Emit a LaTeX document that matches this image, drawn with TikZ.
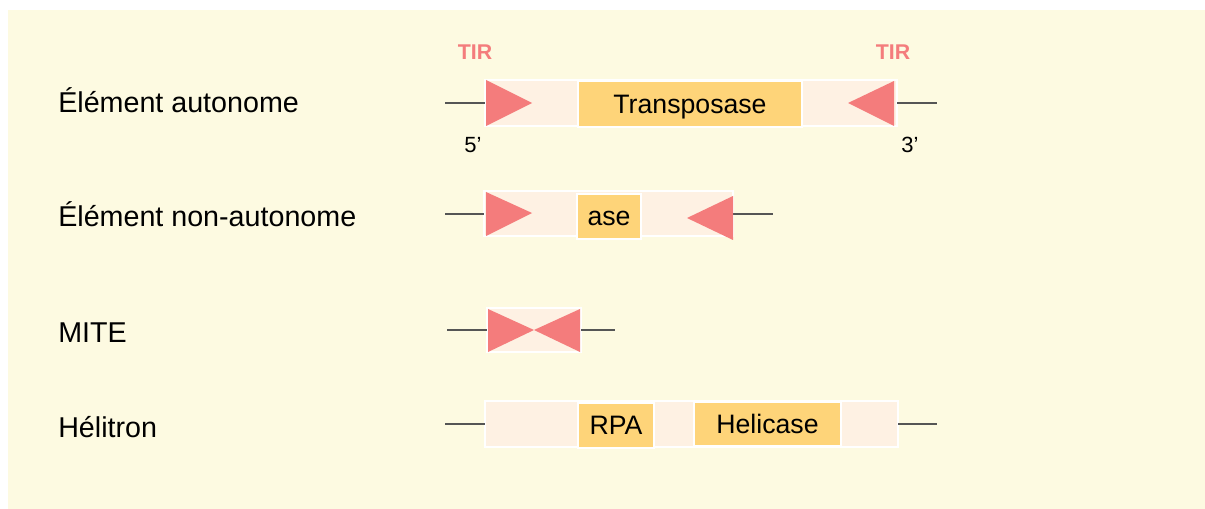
\documentclass[tikz,border=0pt]{standalone}
\usepackage{fontspec}
\setmainfont{Liberation Sans}
\usetikzlibrary{calc}
\definecolor{cream}{HTML}{FDFAE1}
\definecolor{peach}{HTML}{FEF1E3}
\definecolor{gene}{HTML}{FED479}
\definecolor{salmon}{HTML}{F47C7C}
\definecolor{dnagray}{HTML}{555555}
\tikzset{
  seg/.style={fill=peach, draw=white, line width=1.5pt, inner sep=0pt, outer sep=0pt},
  gbox/.style={fill=gene, draw=white, line width=1.5pt, inner sep=0pt, outer sep=0pt,
    font=\fontsize{20}{22}\selectfont, text height=14pt, text depth=0pt},
  tri/.style={fill=salmon},
  dna/.style={draw=dnagray, line width=1.7pt},
  lbl/.style={inner sep=0pt, anchor=base west, font=\fontsize{21.5}{24}\selectfont},
  tir/.style={inner sep=0pt, anchor=base, text=salmon, font=\fontsize{16}{18}\selectfont\bfseries},
  endlbl/.style={inner sep=0pt, anchor=base, font=\fontsize{16.5}{18}\selectfont}
}
\begin{document}
\begin{tikzpicture}[x=0.75pt,y=-0.75pt]
\useasboundingbox (0,0) rectangle (1205,509);
\fill[white] (0,0) rectangle (1205,509);
\fill[cream] (8,10) rectangle (1205,509);

% row labels
\node[lbl] (l1) at (58,113) {Élément autonome};
\node[lbl] (l2) at (58,227) {Élément non-autonome};
\node[lbl] (l3) at (58,342) {MITE};
\node[lbl] (l4) at (58,437) {Hélitron};

% flanking DNA coordinates
\coordinate (a1) at (445,103);
\coordinate (b1) at (937,103);
\coordinate (a2) at (445,214);
\coordinate (b2) at (773,214);
\coordinate (a3) at (447,330);
\coordinate (b3) at (615,330);
\coordinate (a4) at (445,424);
\coordinate (b4) at (937,424);

% element bodies
\node[seg, minimum width=309pt, minimum height=34.5pt] (o1) at (691,103) {};
\node[seg, minimum width=186.75pt, minimum height=33.75pt] (o2) at (608.5,214) {};
\node[seg, minimum width=70.5pt, minimum height=33pt] (o3) at (534,330) {};
\node[seg, minimum width=309.75pt, minimum height=34.5pt] (o4) at (691.5,424) {};
% flanking DNA lines
\draw[dna] (a1) -- (o1.west);
\draw[dna] (o1.east) -- (b1);
\draw[dna] (a2) -- (o2.west);
\draw[dna] (o2.east) -- (b2);
\draw[dna] (a3) -- (o3.west);
\draw[dna] (o3.east) -- (b3);
\draw[dna] (a4) -- (o4.west);
\draw[dna] (o4.east) -- (b4);

% row 1
\node[gbox, minimum width=168pt, minimum height=34.5pt] (g1) at (690,104) {Transposase};
\fill[tri] (486,80) -- (486,126) -- (532,103) -- cycle;
\fill[tri] (894,81) -- (894,126) -- (848,103) -- cycle;
\node[tir] (t1) at (475,60) {TIR};
\node[tir] (t2) at (893,60) {TIR};
\node[endlbl] (e5) at (473,153) {5’};
\node[endlbl] (e3) at (910,153) {3’};

% row 2
\node[gbox, minimum width=48pt, minimum height=33.75pt] (g2) at (609,216.5) {ase};
\fill[tri] (486,192) -- (486,236) -- (532,213) -- cycle;
\fill[tri] (733,196) -- (733,240) -- (687,218) -- cycle;

% row 3
\fill[tri] (488,309) -- (488,352) -- (534,330) -- cycle;
\fill[tri] (580,309) -- (580,352) -- (534,330) -- cycle;

% row 4
\node[gbox, minimum width=57pt, minimum height=33.75pt] (g3) at (616,425.5) {RPA};
\node[gbox, minimum width=110.25pt, minimum height=33pt] (g4) at (767.5,424) {Helicase};
\end{tikzpicture}
\end{document}
